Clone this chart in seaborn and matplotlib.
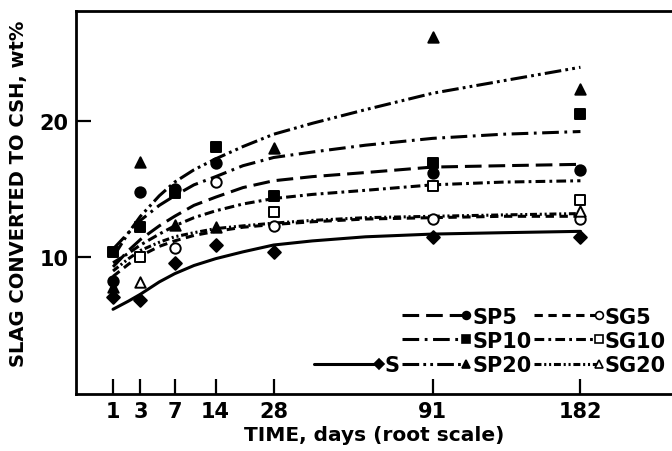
import numpy as np
import matplotlib
matplotlib.use('Agg')
import matplotlib.pyplot as plt
import seaborn as sns
from matplotlib.lines import Line2D
from matplotlib.legend_handler import HandlerLine2D

# measured points (days, wt%)
days = [1, 3, 7, 14, 28, 91, 182]
nan = np.nan
s_pts = [7.1, 6.9, 9.6, 10.9, 10.4, 11.5, 11.5]
sp5_pts = [8.3, 14.8, 15.0, 16.9, nan, 16.2, 16.4]
sp10_pts = [10.4, 12.2, 14.7, 18.1, 14.5, 16.9, 20.5]
sp20_pts = [7.8, 17.0, 12.4, 12.2, 18.0, 26.1, 22.3]
sg5_pts = [nan, nan, 10.7, 15.5, 12.3, 12.8, 12.8]
sg10_pts = [nan, 10.0, nan, nan, 13.3, 15.2, 14.2]
sg20_pts = [nan, 8.2, nan, nan, nan, nan, 13.4]

# fitted curves
fit_days = [1, 2, 3, 5, 7, 10, 14, 20, 28, 40, 60, 91, 130, 182]
s_fit = [6.2, 6.8, 7.3, 8.2, 8.8, 9.4, 9.9, 10.4, 10.9, 11.2, 11.5, 11.7, 11.8, 11.9]
sg5_fit = [8.6, 9.5, 10.1, 10.8, 11.2, 11.6, 11.9, 12.2, 12.4, 12.6, 12.8, 12.9, 13.0, 13.0]
sg20_fit = [9.0, 9.9, 10.5, 11.1, 11.5, 11.8, 12.1, 12.3, 12.5, 12.7, 12.9, 13.0, 13.1, 13.2]
sg10_fit = [9.6, 10.3, 10.9, 11.7, 12.3, 12.9, 13.4, 13.9, 14.3, 14.6, 14.9, 15.3, 15.5, 15.6]
sp5_fit = [9.3, 10.5, 11.3, 12.3, 13.0, 13.8, 14.4, 15.1, 15.6, 15.9, 16.2, 16.6, 16.7, 16.8]
sp10_fit = [10.6, 11.8, 12.7, 13.8, 14.5, 15.3, 15.9, 16.7, 17.3, 17.7, 18.2, 18.7, 19.0, 19.2]
sp20_fit = [10.0, 11.8, 13.0, 14.5, 15.5, 16.4, 17.2, 18.1, 19.0, 19.8, 20.8, 22.0, 22.9, 23.9]

sns.set_style('ticks')
plt.rcParams['font.family'] = ['DejaVu Sans']
plt.rcParams['font.weight'] = 'bold'
plt.rcParams['lines.scale_dashes'] = False
for key in ['text.color', 'axes.labelcolor', 'xtick.color', 'ytick.color', 'axes.edgecolor']:
    plt.rcParams[key] = 'black'

# name, points, fit, marker, filled, dash pattern
series = [
    ('S', s_pts, s_fit, 'D', True, '-'),
    ('SP5', sp5_pts, sp5_fit, 'o', True, (0, (12, 5))),
    ('SP10', sp10_pts, sp10_fit, 's', True, (0, (12, 4, 2, 4))),
    ('SP20', sp20_pts, sp20_fit, '^', True, (0, (12, 3, 2, 3, 2, 3))),
    ('SG5', sg5_pts, sg5_fit, 'o', False, (0, (6, 4))),
    ('SG10', sg10_pts, sg10_fit, 's', False, (0, (7, 3, 2, 3))),
    ('SG20', sg20_pts, sg20_fit, '^', False, (0, (5, 2, 1.5, 2, 1.5, 2))),
]
msize = {'D': 6.5, 'o': 7.5, 's': 7, '^': 7.5}

fig = plt.figure(figsize=(6.72, 4.52), dpi=100)
ax = fig.add_axes([0.1125, 0.126, 0.8875, 0.847])
ax.set_xscale('function', functions=(lambda v: np.sqrt(np.clip(v, 0, None)), np.square))

handles = {}
for name, pts, fit, mk, filled, ls in series:
    sns.lineplot(x=fit_days, y=fit, ax=ax, color='black', lw=2.2, linestyle=ls,
                 legend=False)
    fc = 'black' if filled else 'white'
    sns.scatterplot(x=days, y=pts, ax=ax, marker=mk, s=msize[mk] ** 2,
                    facecolor=fc, edgecolor='black', linewidth=1.4, zorder=4,
                    legend=False)
    handles[name] = Line2D([], [], color='black', lw=2.2, linestyle=ls, marker=mk,
                           markersize=msize[mk] * 0.75, mfc=fc, mec='black', mew=1.2)


class EndMarkerHandler(HandlerLine2D):
    def create_artists(self, legend, orig_handle, xdescent, ydescent, width,
                       height, fontsize, trans):
        xd = np.array([-xdescent, -xdescent + width])
        yd = np.full(2, (height - ydescent) / 2.0)
        line = Line2D(xd, yd)
        self.update_prop(line, orig_handle, legend)
        line.set_marker('None')
        mark = Line2D([xd[-1]], [yd[-1]])
        self.update_prop(mark, orig_handle, legend)
        mark.set_linestyle('None')
        line.set_transform(trans)
        mark.set_transform(trans)
        return [line, mark]


blank = Line2D([], [], color='none')
order = [blank, blank, handles['S'], handles['SP5'], handles['SP10'], handles['SP20'],
         handles['SG5'], handles['SG10'], handles['SG20']]
labels = ['', '', 'S', 'SP5', 'SP10', 'SP20', 'SG5', 'SG10', 'SG20']
ax.legend(order, labels, ncol=3, loc='lower right', bbox_to_anchor=(0.99, 0.05),
          frameon=False, handlelength=3.1, handletextpad=0.3, columnspacing=0.1,
          labelspacing=0.2, borderaxespad=0, borderpad=0,
          prop={'weight': 'bold', 'size': 15},
          handler_map={Line2D: EndMarkerHandler()})

ax.set_xlim(0, 254)
ax.set_ylim(0, 28)
ax.set_xticks(days)
ax.set_xticklabels([str(d) for d in days])
ax.set_yticks([10, 20])
ax.xaxis.set_minor_locator(matplotlib.ticker.NullLocator())
ax.tick_params(direction='in', length=11, width=1.6, labelsize=15, pad=5)
for sp in ['left', 'bottom', 'top']:
    ax.spines[sp].set_linewidth(2)
ax.spines['right'].set_visible(False)
ax.set_xlabel('TIME, days (root scale)', fontsize=14.5, fontweight='bold', labelpad=3)
ax.set_ylabel('SLAG CONVERTED TO CSH, wt%', fontsize=14, fontweight='bold')
ax.yaxis.set_label_coords(-0.08, 0.525)

fig.savefig('out.png', dpi=100)
